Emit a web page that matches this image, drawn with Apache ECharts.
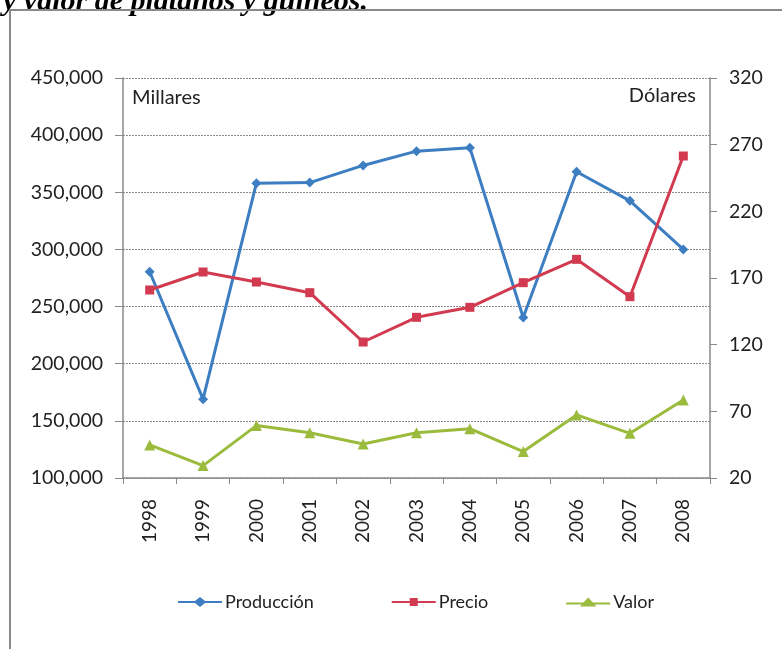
<!DOCTYPE html>
<html>
<head>
<meta charset="utf-8">
<script src="https://cdn.jsdelivr.net/npm/echarts@6/dist/echarts.min.js"></script>
<style>
html,body{margin:0;padding:0;background:#fff;}
#c{width:782px;height:649px;}
</style>
</head>
<body>
<div id="c"></div>
<script>
const years = ['1998','1999','2000','2001','2002','2003','2004','2005','2006','2007','2008'];
const produccion = [280500, 169000, 358000, 358500, 373500, 386000, 389000, 240500, 368000, 342500, 300000];
const precio = [161, 174.5, 167, 159, 122, 140.5, 148, 166.5, 184, 156, 261.5];
const valor = [44.8, 29.3, 59.3, 54, 45.5, 54, 57, 39.8, 67.3, 53.5, 78.5];
const leftTicks = {min: 100000, max: 450000, interval: 50000};
const rightTicks = {min: 20, max: 320, interval: 50};

const font = 'Lato, "Open Sans", sans-serif';
const iconDiamond = 'path://M0 4L17 4L22 0L27 4L44 4L44 6L27 6L22 10L17 6L0 6Z';
const iconSquare = 'path://M0 4L18 4L18 1L26 1L26 4L44 4L44 6L26 6L26 9L18 9L18 6L0 6Z';
const iconTriangle = 'path://M0 5L17.3 5L22 0L26.7 5L44 5L44 7L28.6 7L30 9L14 9L15.4 7L0 7Z';

const chart = echarts.init(document.getElementById('c'), null, {renderer: 'canvas'});
chart.setOption({
  animation: false,
  backgroundColor: '#fff',
  graphic: [
    {type: 'text', left: 3, top: -13, style: {text: 'y valor de plátanos y guineos.', font: 'italic bold 30px "Liberation Serif", serif', fill: '#000'}},
    {type: 'polyline', shape: {points: [[10, 660], [10, 10], [790, 10]]}, style: {stroke: '#8a8a8a', lineWidth: 2, fill: null}},
    {type: 'text', left: 132, top: 88, style: {text: 'Millares', font: '20px ' + font, fill: '#222'}},
    {type: 'text', right: 86, top: 86, style: {text: 'Dólares', font: '20px ' + font, fill: '#222'}}
  ],
  grid: {left: 123, right: 72, top: 78, bottom: 171, containLabel: false},
  legend: {
    top: 588, left: 173, itemGap: 78, itemWidth: 44, itemHeight: 10,
    textStyle: {fontFamily: font, fontSize: 18, color: '#222', padding: [0, 0, 0, -2]},
    data: [
      {name: 'Producción', icon: iconDiamond},
      {name: 'Precio', icon: iconSquare},
      {name: 'Valor', icon: iconTriangle}
    ]
  },
  xAxis: {
    type: 'category', data: years, boundaryGap: true,
    axisLine: {lineStyle: {color: '#8a8a8a', width: 1.5}},
    axisTick: {show: true, length: 6, lineStyle: {color: '#8a8a8a'}},
    axisLabel: {rotate: 90, margin: 21, fontFamily: font, fontSize: 19, color: '#222'}
  },
  yAxis: [
    {
      type: 'value', min: leftTicks.min, max: leftTicks.max, interval: leftTicks.interval, position: 'left',
      axisLine: {show: true, lineStyle: {color: '#8a8a8a', width: 1.5}},
      axisTick: {show: true, length: 8, lineStyle: {color: '#8a8a8a'}},
      axisLabel: {margin: 20, fontFamily: font, fontSize: 19.5, color: '#222', formatter: v => v.toLocaleString('en-US')},
      splitLine: {show: true, lineStyle: {color: '#8c8c8c', type: [2, 1], width: 1}}
    },
    {
      type: 'value', min: rightTicks.min, max: rightTicks.max, interval: rightTicks.interval, position: 'right',
      axisLine: {show: true, lineStyle: {color: '#8a8a8a', width: 1.5}},
      axisTick: {show: true, length: 7, lineStyle: {color: '#8a8a8a'}},
      axisLabel: {margin: 19, fontFamily: font, fontSize: 19.5, color: '#222'},
      splitLine: {show: false}
    }
  ],
  series: [
    {name: 'Producción', type: 'line', yAxisIndex: 0, data: produccion, symbol: 'diamond', symbolSize: 10,
      color: '#3d7ec2', lineStyle: {width: 3}, itemStyle: {color: '#3d7ec2'}},
    {name: 'Precio', type: 'line', yAxisIndex: 1, data: precio, symbol: 'rect', symbolSize: 9,
      color: '#d23a50', lineStyle: {width: 3}, itemStyle: {color: '#d23a50'}},
    {name: 'Valor', type: 'line', yAxisIndex: 1, data: valor, symbol: 'triangle', symbolSize: 11,
      color: '#9bbb3c', lineStyle: {width: 3}, itemStyle: {color: '#9bbb3c'}}
  ]
});
</script>
</body>
</html>
